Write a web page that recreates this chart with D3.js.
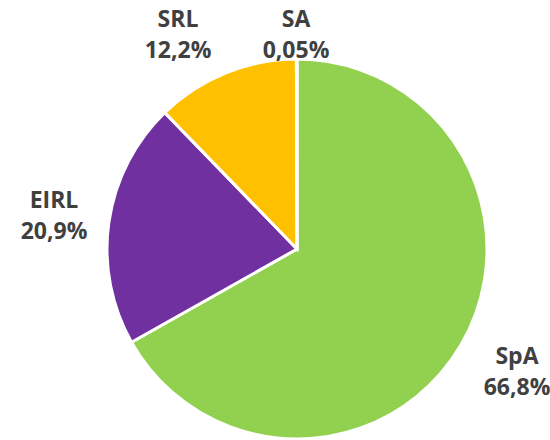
<!DOCTYPE html>
<html>
<head>
<meta charset="utf-8">
<script src="https://cdn.jsdelivr.net/npm/d3@7"></script>
<style>
  body { margin: 0; background: #fff; }
  text { font-family: "Open Sans", "Liberation Sans", sans-serif; font-weight: bold; fill: #404040; }
</style>
</head>
<body>
<div class="main"></div>
<script>
// data
var categories = ["SpA", "EIRL", "SRL", "SA"];
var values = [66.8, 20.9, 12.2, 0.05];
var labels = ["66,8%", "20,9%", "12,2%", "0,05%"];
var colors = ["#92D050", "#7030A0", "#FFC000", "#4472C4"];

var width = 550;
var height = 440;
var cx = 297, cy = 249, r = 190;

var svg = d3.select("div.main")
    .append("svg")
    .attr("width", width)
    .attr("height", height)

var data = categories.map(function (c, i) { return { name: c, value: values[i], label: labels[i], color: colors[i] } })

var pie = d3.pie().sort(null).value(d => d.value)
var arc = d3.arc().innerRadius(0).outerRadius(r)

var g = svg.append("g").attr("transform", "translate(" + cx + "," + cy + ")")

g.selectAll("path")
    .data(pie(data))
    .enter()
    .append("path")
    .attr("d", arc)
    .attr("fill", d => d.data.color)
    .style("stroke", "white")
    .style("stroke-width", 3)
    .style("stroke-linejoin", "miter")

// label positions (offset from centre)
var labelPos = {
    "SpA": [220, 115],
    "EIRL": [-243, -41],
    "SRL": [-119, -222],
    "SA": [-1, -222]
}

var lab = g.selectAll("g.lab")
    .data(data)
    .enter()
    .append("g")
    .attr("class", "lab")
    .attr("transform", d => "translate(" + labelPos[d.name][0] + "," + labelPos[d.name][1] + ")")

lab.append("text")
    .attr("text-anchor", "middle")
    .style("font-size", "23px")
    .text(d => d.name)

lab.append("text")
    .attr("text-anchor", "middle")
    .attr("y", 31)
    .style("font-size", "23px")
    .text(d => d.label)
</script>
</body>
</html>
